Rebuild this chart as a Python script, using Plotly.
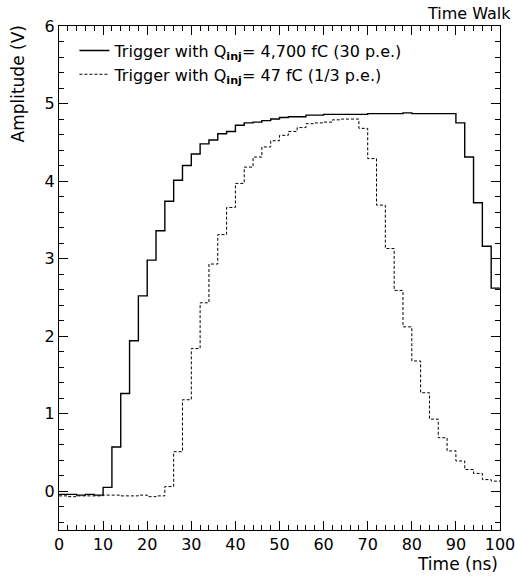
import plotly.graph_objects as go

# bin edges (2 ns bins, 0..100 ns)
bin_edges = list(range(0, 101, 2))

# Trigger with Q_inj = 4,700 fC (30 p.e.)
amp_high = [-0.04, -0.04, -0.05, -0.04, -0.05, 0.05, 0.57, 1.26, 1.94, 2.52,
            2.98, 3.36, 3.74, 4.01, 4.20, 4.35, 4.48, 4.53, 4.61, 4.64,
            4.72, 4.75, 4.76, 4.78, 4.80, 4.82, 4.83, 4.83, 4.85, 4.85,
            4.86, 4.86, 4.86, 4.86, 4.86, 4.87, 4.87, 4.87, 4.87, 4.88,
            4.87, 4.87, 4.87, 4.87, 4.87, 4.75, 4.31, 3.72, 3.16, 2.62]

# Trigger with Q_inj = 47 fC (1/3 p.e.)
amp_low = [-0.06, -0.07, -0.06, -0.06, -0.06, -0.05, -0.05, -0.06, -0.06, -0.05,
           -0.07, -0.06, 0.06, 0.51, 1.18, 1.84, 2.43, 2.93, 3.31, 3.66,
           3.97, 4.18, 4.31, 4.44, 4.52, 4.59, 4.64, 4.69, 4.74, 4.75,
           4.76, 4.79, 4.80, 4.80, 4.68, 4.29, 3.69, 3.13, 2.59, 2.12,
           1.68, 1.27, 0.93, 0.69, 0.52, 0.39, 0.28, 0.23, 0.15, 0.13]

FONT = "DejaVu Sans"

def step_xy(edges, vals):
    return list(edges), list(vals) + [vals[-1]]

fig = go.Figure()
x1, y1 = step_xy(bin_edges, amp_high)
fig.add_trace(go.Scatter(x=x1, y=y1, mode="lines", line_shape="hv",
                         line=dict(color="black", width=1.4),
                         name="Trigger with Q<sub><b>inj</b></sub>= 4,700 fC (30 p.e.)"))
x2, y2 = step_xy(bin_edges, amp_low)
fig.add_trace(go.Scatter(x=x2, y=y2, mode="lines", line_shape="hv",
                         line=dict(color="black", width=1, dash="3px,2px"),
                         name="Trigger with Q<sub><b>inj</b></sub>= 47 fC (1/3 p.e.)"))

axis_common = dict(showline=True, linecolor="black", linewidth=1, mirror="allticks",
                   ticks="inside", ticklen=9, tickcolor="black", tickwidth=1,
                   showgrid=False, zeroline=False, automargin=False,
                   ticklabeloverflow="allow",
                   tickfont=dict(family=FONT, size=16, color="black"))

fig.update_xaxes(range=[0, 100], dtick=10, tick0=0,
                 minor=dict(dtick=2, ticks="inside", ticklen=5, tickcolor="black", showgrid=False),
                 **axis_common)
fig.update_yaxes(range=[-0.5, 6], dtick=1, tick0=0,
                 minor=dict(dtick=0.2, tick0=0, ticks="inside", ticklen=5, tickcolor="black", showgrid=False),
                 **axis_common)

fig.update_layout(
    width=515, height=577,
    margin=dict(l=59, r=15, t=26, b=47),
    paper_bgcolor="white", plot_bgcolor="white",
    showlegend=True,
    legend=dict(x=0.035, y=0.985, xanchor="left", yanchor="top",
                bgcolor="rgba(0,0,0,0)", borderwidth=0,
                font=dict(family=FONT, size=16, color="black"),
                itemwidth=30, tracegroupgap=0),
    annotations=[
        dict(text="Time Walk", xref="paper", yref="paper", x=1.03, y=1.0,
             xanchor="right", yanchor="bottom", showarrow=False, yshift=1,
             font=dict(family=FONT, size=16, color="black")),
        dict(text="Time (ns)", xref="paper", yref="paper", x=1.0, y=0,
             xanchor="right", yanchor="top", showarrow=False, yshift=-22,
             font=dict(family=FONT, size=17, color="black")),
        dict(text="Amplitude (V)", xref="paper", yref="paper", x=0, y=1.0,
             xanchor="right", yanchor="top", showarrow=False, textangle=-90,
             xshift=-30, yshift=2, font=dict(family=FONT, size=17, color="black")),
    ],
)

fig.write_html("out.html")
